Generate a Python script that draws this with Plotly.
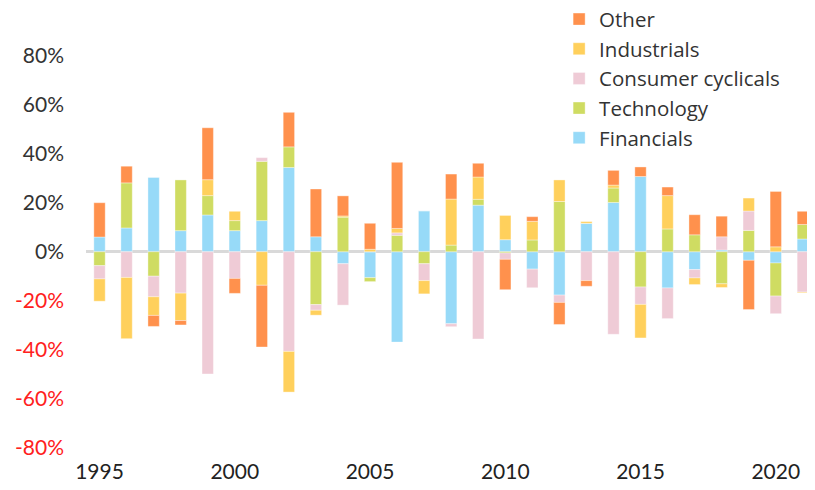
import plotly.graph_objects as go

years = list(range(1995, 2022))

financials = [6.0, 9.7, 30.3, 8.6, 15.0, 8.6, 12.7, 34.4, 6.1, -4.9,
              -10.6, -36.9, 16.7, -29.4, 19.0, 4.9, -7.1, -17.7, 11.6, 20.1,
              30.7, -14.8, -7.3, 0.7, -3.5, -4.6, 5.2]
technology = [-5.7, 18.4, -10.0, 20.7, 7.9, 4.1, 24.2, 8.4, -21.6, 14.1,
              -1.6, 6.7, -4.9, 2.7, 2.4, -0.5, 4.8, 20.5, 0.0, 5.9,
              -14.4, 9.3, 6.9, -13.1, 8.7, -13.5, 5.9]
consumer = [-5.4, -10.5, -8.4, -16.9, -49.9, -10.9, 1.5, -40.7, -2.3, -16.9,
            0.0, 1.0, -6.9, -1.2, -35.6, -2.6, -7.6, -3.0, -11.8, -33.7,
            -7.1, -12.5, -3.4, 5.4, 7.9, -7.2, -16.5]
industrials = [-9.1, -25.0, -7.6, -11.2, 6.5, 3.8, -13.7, -16.6, -2.0, 0.5,
               1.0, 1.8, -5.4, 18.8, 9.1, 9.9, 7.6, 8.8, 0.7, 1.2,
               -13.7, 13.6, -2.7, -1.5, 5.3, 2.0, -0.3]
other = [14.0, 6.8, -4.5, -1.8, 21.2, -6.1, -25.2, 14.1, 19.5, 8.2,
         10.6, 27.0, 0.0, 10.2, 5.6, -12.4, 1.9, -9.0, -2.3, 6.0,
         3.9, 3.5, 8.2, 8.4, -20.1, 22.6, 5.4]

series = [
    ("Financials", financials, "#97DAF8"),
    ("Technology", technology, "#CFDC62"),
    ("Consumer cyclicals", consumer, "#EFCBD6"),
    ("Industrials", industrials, "#FFD05C"),
    ("Other", other, "#FF914D"),
]

y_tick_vals = [-80, -60, -40, -20, 0, 20, 40, 60, 80]
y_tick_text = [
    f'<span style="color:#FF2020">{v}%</span>' if v < 0 else f"{v}%"
    for v in y_tick_vals
]
x_tick_vals = [1995, 2000, 2005, 2010, 2015, 2020]

fig = go.Figure()
for name, vals, col in series:
    fig.add_trace(go.Bar(
        x=years, y=vals, name=name,
        marker=dict(color=col, line=dict(color="rgba(255,255,255,0.6)", width=0.6)),
        width=0.42,
    ))

# page body has an 8px margin; figure is sized/offset to compensate
fig.update_layout(
    barmode="relative",
    width=807, height=482,
    margin=dict(l=78, r=0, t=11, b=33, autoexpand=False),
    paper_bgcolor="white", plot_bgcolor="white",
    font=dict(family="Lato", size=21, color="#333333"),
    showlegend=True,
    legend=dict(
        traceorder="reversed",
        x=0.649, y=1.045, xanchor="left", yanchor="top",
        bgcolor="rgba(0,0,0,0)",
        font=dict(family="Open Sans", size=20.5, color="#333333"),
        itemwidth=30,
    ),
    xaxis=dict(
        range=[1994.5, 2021.45],
        tickvals=x_tick_vals,
        showgrid=False, zeroline=False, showline=False,
        ticks="", tickfont=dict(size=21, color="#222222"),
    ),
    yaxis=dict(
        range=[-83.8, 95],
        tickvals=y_tick_vals, ticktext=y_tick_text,
        showgrid=False, zeroline=True, zerolinecolor="#D9D9D9", zerolinewidth=2.5,
        showline=False, ticks="", ticklabelstandoff=21,
        tickfont=dict(size=21, color="#333333"),
    ),
    bargap=0.5,
)

fig.write_html("out.html")
